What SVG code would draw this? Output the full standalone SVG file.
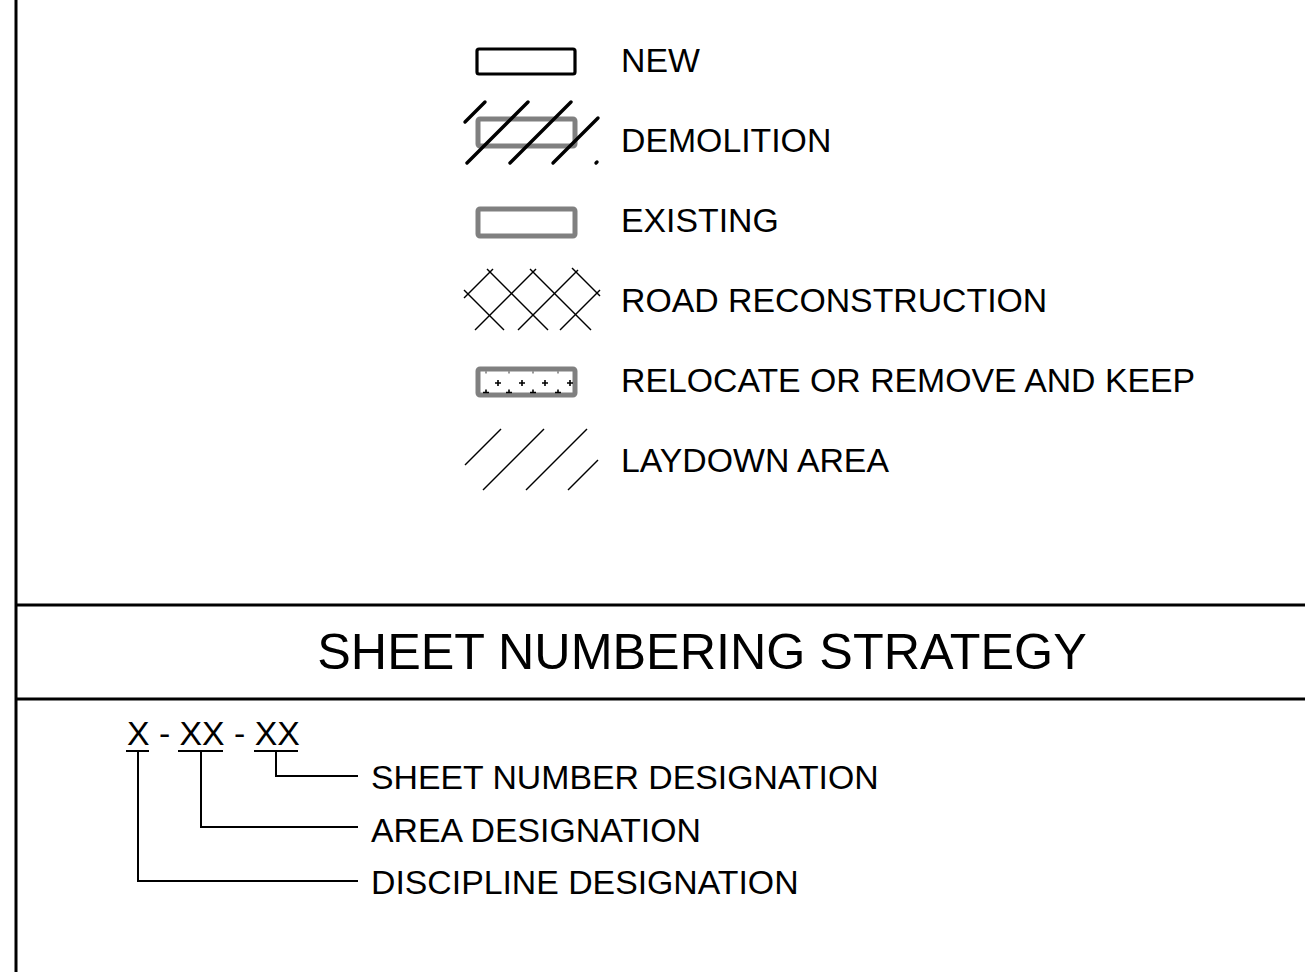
<svg xmlns="http://www.w3.org/2000/svg" width="1305" height="972" viewBox="0 0 1305 972">
<style>
text{font-family:"Liberation Sans",Arial,sans-serif;fill:#000}
.lbl{font-size:33.8px}
.frame{stroke:#000;stroke-width:3;fill:none}
.grey{fill:none;stroke:#808080;stroke-width:5;stroke-linejoin:round}
.thick{stroke:#000;stroke-width:3.4;stroke-linecap:round;fill:none}
.thin{stroke:#000;stroke-width:1.4;fill:none}
.lead{stroke:#000;stroke-width:2;fill:none}
</style>
<rect width="1305" height="972" fill="#fff"/>
<g id="frame">
<line class="frame" x1="16" y1="0" x2="16" y2="972"/>
<line class="frame" x1="16" y1="605" x2="1305" y2="605"/>
<line class="frame" x1="16" y1="699" x2="1305" y2="699"/>
</g>
<g id="legend-new">
<rect x="477" y="49" width="98" height="25" rx="2" fill="none" stroke="#000" stroke-width="3.2"/>
<text class="lbl" x="621" y="72">NEW</text>
</g>
<g id="legend-demolition">
<rect class="grey" x="478" y="119" width="97" height="27" rx="2"/>
<line class="thick" x1="465" y1="122" x2="485" y2="102"/>
<line class="thick" x1="467" y1="163" x2="528" y2="102"/>
<line class="thick" x1="510" y1="163" x2="571" y2="102"/>
<line class="thick" x1="553" y1="163" x2="598" y2="118"/>
<line class="thick" x1="596" y1="163" x2="597" y2="162"/>
<text class="lbl" x="621" y="152">DEMOLITION</text>
</g>
<g id="legend-existing">
<rect class="grey" x="478" y="209" width="97" height="27" rx="2"/>
<text class="lbl" x="621" y="232">EXISTING</text>
</g>
<g id="legend-road">
<line class="thin" x1="464" y1="298" x2="493" y2="269"/>
<line class="thin" x1="475" y1="330" x2="536" y2="269"/>
<line class="thin" x1="518" y1="330" x2="578" y2="270"/>
<line class="thin" x1="560" y1="330" x2="600" y2="290"/>
<line class="thin" x1="464" y1="290" x2="504" y2="330"/>
<line class="thin" x1="487" y1="269" x2="548" y2="330"/>
<line class="thin" x1="530" y1="269" x2="591" y2="330"/>
<line class="thin" x1="572" y1="268" x2="600" y2="296"/>
<text class="lbl" x="621" y="312">ROAD RECONSTRUCTION</text>
</g>
<g id="legend-relocate">
<rect class="grey" x="478" y="369" width="97" height="26" rx="2"/>
<g stroke="#000" stroke-width="1.6">
<path d="M495 383h6M498 380v6M519 383h6M522 380v6M542 383h6M545 380v6M567 383h6M570 380v6"/>
<path d="M483 392.5h6M486 389.5v3M506 392.5h6M509 389.5v3M530 392.5h6M533 389.5v3M555 392.5h6M558 389.5v3"/>
<path d="M486 371.5v2M509 371.5v2M533 371.5v2M558 371.5v2" stroke-width="0.8"/>
</g>
<text class="lbl" x="621" y="392">RELOCATE OR REMOVE AND KEEP</text>
</g>
<g id="legend-laydown">
<line class="thin" x1="465" y1="465" x2="501" y2="429"/>
<line class="thin" x1="483" y1="490" x2="544" y2="429"/>
<line class="thin" x1="526" y1="490" x2="587" y2="429"/>
<line class="thin" x1="568" y1="490" x2="598" y2="460"/>
<text class="lbl" x="621" y="472">LAYDOWN AREA</text>
</g>
<g id="title">
<text x="702" y="669" font-size="50.3" text-anchor="middle">SHEET NUMBERING STRATEGY</text>
</g>
<g id="code">
<text class="lbl" x="127" y="745" xml:space="preserve">X - XX - XX</text>
<line class="lead" x1="126" y1="751" x2="149" y2="751"/>
<line class="lead" x1="178" y1="751" x2="223" y2="751"/>
<line class="lead" x1="254" y1="751" x2="298" y2="751"/>
</g>
<g id="label-sheet"><text class="lbl" x="371" y="789">SHEET NUMBER DESIGNATION</text></g>
<g id="label-area"><text class="lbl" x="371" y="842">AREA DESIGNATION</text></g>
<g id="label-discipline"><text class="lbl" x="371" y="894">DISCIPLINE DESIGNATION</text></g>
<g id="connectors">
<polyline class="lead" points="276,751 276,776 358,776"/>
<polyline class="lead" points="201,751 201,827 358,827"/>
<polyline class="lead" points="138,751 138,881 358,881"/>
</g>
</svg>
